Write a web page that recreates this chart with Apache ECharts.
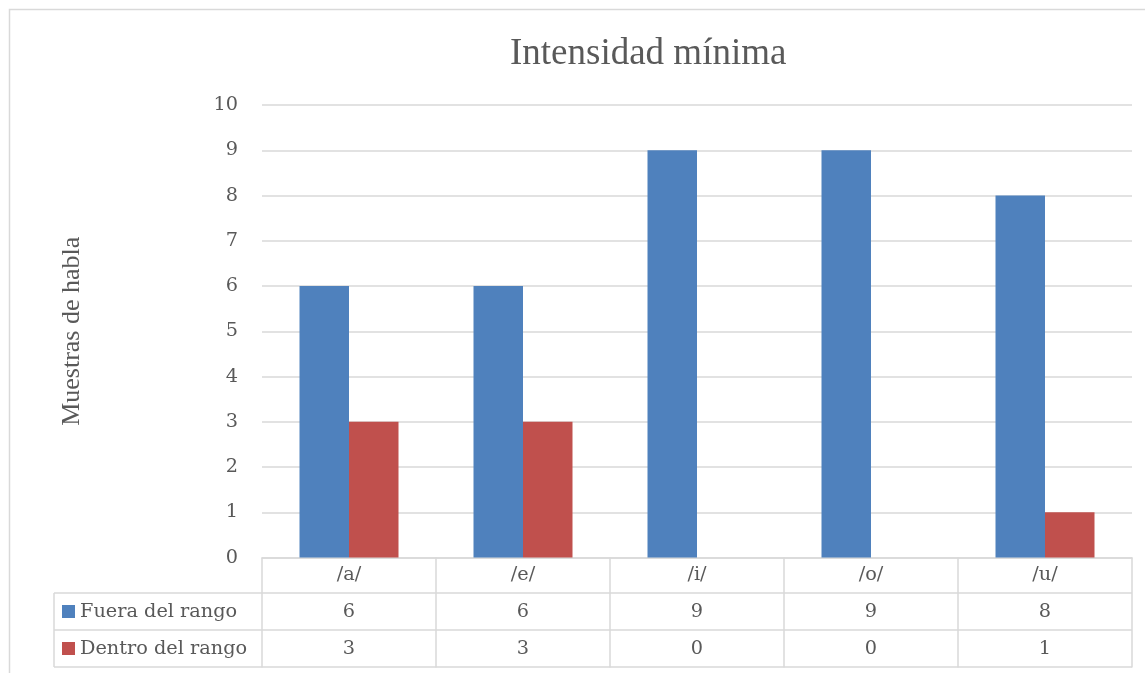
<!DOCTYPE html>
<html>
<head>
<meta charset="utf-8">
<title>Intensidad mínima</title>
<script src="https://cdn.jsdelivr.net/npm/echarts@6/dist/echarts.min.js"></script>
<style>
  html, body { margin: 0; padding: 0; background: #fff; }
  #chart { width: 1145px; height: 673px; }
</style>
</head>
<body>
<div id="chart"></div>
<script>
// Vowel categories and sample counts per series
const vowels = ['/a/', '/e/', '/i/', '/o/', '/u/'];
const seriesNames = ['Fuera del rango', 'Dentro del rango'];
const fueraDelRango = [6, 6, 9, 9, 8];
const dentroDelRango = [3, 3, 0, 0, 1];
const yTicks = [0, 1, 2, 3, 4, 5, 6, 7, 8, 9, 10];

const COLORS = ['#4F81BD', '#C0504D'];
const TEXT = '#595959';
const LINE = '#D9D9D9';
const SERIF_BODY = '"DejaVu Serif", serif';
const SERIF_TITLE = '"Liberation Serif", "Times New Roman", serif';

// table row boundaries (px) below the plot
const ROW_TOPS = [593, 630, 667];

const chart = echarts.init(document.getElementById('chart'));

// one legend per table row, so each key sits in front of its row
const legends = seriesNames.map(function (name, r) {
  return {
    left: 62,
    top: (ROW_TOPS[r] + ROW_TOPS[r + 1]) / 2 - 11,
    padding: 0,
    itemWidth: 13,
    itemHeight: 13,
    icon: 'rect',
    data: [name],
    textStyle: { fontFamily: SERIF_BODY, fontSize: 19.3, color: TEXT, lineHeight: 22 }
  };
});

const option = {
  animation: false,
  color: COLORS,
  title: {
    text: 'Intensidad mínima',
    left: 505,
    top: 31,
    textStyle: { fontFamily: SERIF_TITLE, fontSize: 37, fontWeight: 'normal', color: TEXT }
  },
  legend: legends,
  grid: { left: 262, right: 13, top: 105, bottom: 115.5, containLabel: false },
  xAxis: {
    type: 'category',
    data: vowels,
    axisLine: { show: true, lineStyle: { color: LINE, width: 1.5 } },
    axisTick: { show: true, length: 110, lineStyle: { color: LINE, width: 1.5 } },
    axisLabel: {
      margin: 0,
      lineHeight: 35,
      fontFamily: SERIF_BODY,
      fontSize: 19.3,
      color: TEXT
    },
    splitLine: { show: false }
  },
  yAxis: {
    type: 'value',
    min: yTicks[0],
    max: yTicks[yTicks.length - 1],
    interval: 1,
    name: 'Muestras de habla',
    nameLocation: 'middle',
    nameGap: 177,
    nameRotate: 90,
    nameTextStyle: { fontFamily: SERIF_TITLE, fontSize: 26, color: TEXT },
    axisLine: { show: false },
    axisTick: { show: false },
    axisLabel: { margin: 24, fontFamily: SERIF_BODY, fontSize: 19.3, color: TEXT },
    splitLine: { lineStyle: { color: LINE, width: 1.5 } }
  },
  series: [
    {
      name: seriesNames[0],
      type: 'bar',
      data: fueraDelRango,
      barWidth: 49.5,
      barGap: '0%'
    },
    {
      name: seriesNames[1],
      type: 'bar',
      data: dentroDelRango,
      barWidth: 49.5,
      barGap: '0%'
    }
  ]
};

chart.setOption(option);

// Data table under the plot: columns follow the category bands of the x axis
function buildTable() {
  const c0 = chart.convertToPixel({ xAxisIndex: 0 }, 0);
  const c1 = chart.convertToPixel({ xAxisIndex: 0 }, 1);
  const band = c1 - c0;
  const leftEdge = c0 - band / 2;
  const rightEdge = leftEdge + band * vowels.length;
  const tableLeft = 54;
  const rows = [fueraDelRango, dentroDelRango];

  const elements = [];
  // outer chart frame
  elements.push({
    type: 'rect',
    shape: { x: 9.5, y: 9.5, width: 1200, height: 700 },
    style: { fill: 'none', stroke: LINE, lineWidth: 1.5 },
    silent: true
  });
  ROW_TOPS.forEach(function (y) {
    elements.push({
      type: 'line',
      shape: { x1: tableLeft, y1: y, x2: rightEdge, y2: y },
      style: { stroke: LINE, lineWidth: 1.5 },
      silent: true
    });
  });
  elements.push({
    type: 'line',
    shape: { x1: tableLeft, y1: ROW_TOPS[0], x2: tableLeft, y2: ROW_TOPS[2] },
    style: { stroke: LINE, lineWidth: 1.5 },
    silent: true
  });
  rows.forEach(function (values, r) {
    const yMid = (ROW_TOPS[r] + ROW_TOPS[r + 1]) / 2;
    values.forEach(function (v, i) {
      elements.push({
        type: 'text',
        x: chart.convertToPixel({ xAxisIndex: 0 }, i),
        y: yMid,
        style: {
          text: String(v),
          fontFamily: SERIF_BODY,
          fontSize: 19.3,
          fill: TEXT,
          align: 'center',
          verticalAlign: 'middle'
        },
        silent: true
      });
    });
  });
  chart.setOption({ graphic: { elements: elements } });
}

buildTable();
</script>
</body>
</html>
